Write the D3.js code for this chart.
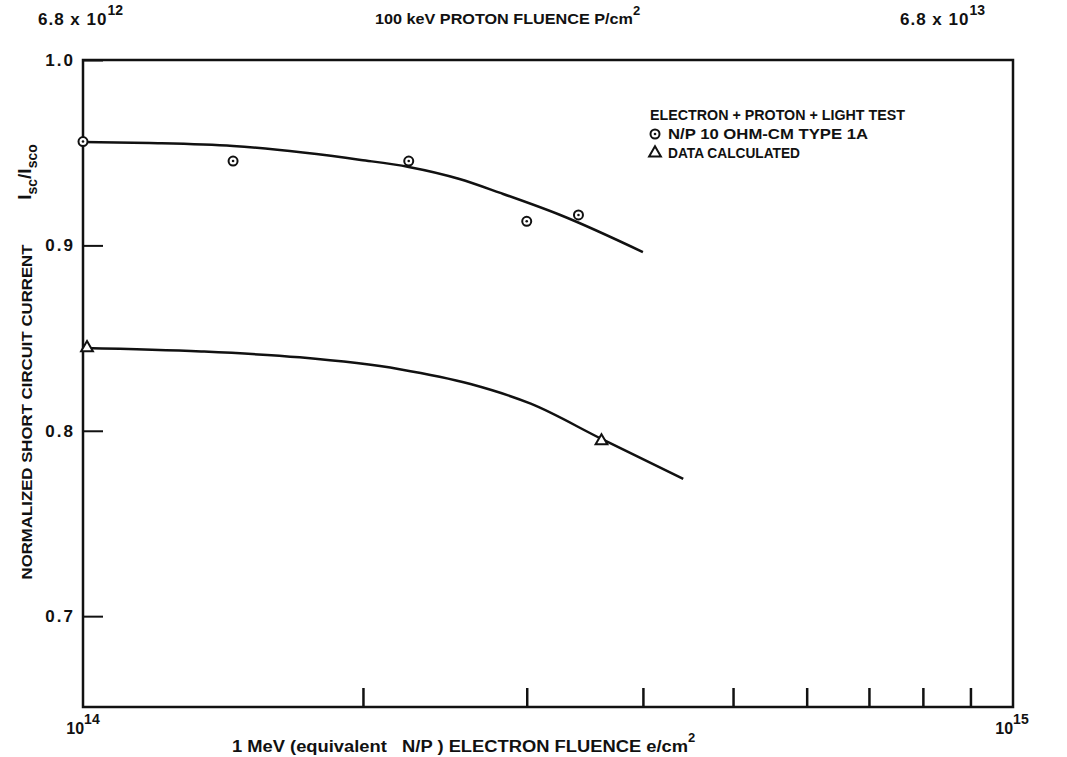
<!DOCTYPE html>
<html>
<head>
<meta charset="utf-8">
<script src="https://cdn.jsdelivr.net/npm/d3@7"></script>
<style>
  body { margin: 0; background: #fff; }
  text { font-family: "Liberation Sans", Arial, sans-serif; font-weight: bold; fill: #111; }
</style>
</head>
<body>
<div id="chart"></div>
<script>
// measured cells (circles) and calculated points (triangles)
const measuredX = [1.0e14, 1.45e14, 2.24e14, 3.0e14, 3.41e14];
const measuredY = [0.956, 0.9455, 0.9455, 0.913, 0.9164];
const calculatedX = [1.01e14, 3.61e14];
const calculatedY = [0.8447, 0.7945];

// hand drawn fit curves
const upperCurveX = [1.0e14, 1.18e14, 1.45e14, 1.99e14, 2.24e14, 2.54e14, 2.81e14, 3.26e14, 4.0e14];
const upperCurveY = [0.9558, 0.9552, 0.9536, 0.9461, 0.9423, 0.9358, 0.9283, 0.9164, 0.8964];
const lowerCurveX = [1.0e14, 1.34e14, 1.71e14, 2.19e14, 2.61e14, 3.03e14, 3.61e14, 4.42e14];
const lowerCurveY = [0.8447, 0.8428, 0.8396, 0.8332, 0.8252, 0.8146, 0.7956, 0.774];

const xTicks = [2e14, 3e14, 4e14, 5e14, 6e14, 7e14, 8e14, 9e14];
const xEndLabels = ["14", "15"];
const yTicks = [0.7, 0.8, 0.9, 1.0];
const protonExp = ["12", "13"];
const legendLabels = ["ELECTRON + PROTON + LIGHT TEST", "N/P 10 OHM-CM TYPE 1A", "DATA CALCULATED"];

const W = 1067, H = 757;
const plot = { left: 83, right: 1013, top: 60, bottom: 707 };

const svg = d3.select("#chart").append("svg")
    .attr("width", W).attr("height", H);

const x = d3.scaleLog().domain([1e14, 1e15]).range([plot.left, plot.right]);
const y = d3.scaleLinear().domain([0.651, 1.0]).range([plot.bottom, plot.top]);

// frame
svg.append("rect")
    .attr("x", plot.left).attr("y", plot.top)
    .attr("width", plot.right - plot.left).attr("height", plot.bottom - plot.top)
    .attr("fill", "none").attr("stroke", "#111").attr("stroke-width", 2.5);

// bottom ticks point inward
const xAxis = svg.append("g")
    .attr("transform", `translate(0,${plot.bottom})`)
    .call(d3.axisBottom(x).tickValues(xTicks).tickSizeInner(-19).tickSizeOuter(0).tickFormat(""));
xAxis.select(".domain").remove();
xAxis.selectAll("line").attr("stroke", "#111").attr("stroke-width", 2.5);

const yAxis = svg.append("g")
    .attr("transform", `translate(${plot.left},0)`)
    .call(d3.axisLeft(y).tickValues(yTicks).tickSizeInner(-20).tickSizeOuter(0).tickPadding(8)
        .tickFormat(d3.format(".1f")));
yAxis.select(".domain").remove();
yAxis.selectAll("line").attr("stroke", "#111").attr("stroke-width", 2);
yAxis.selectAll("text")
    .style("font-family", "'Liberation Sans', Arial, sans-serif")
    .style("font-weight", "bold").style("font-size", "17px").attr("fill", "#111")
    .attr("letter-spacing", 2);

// 10^14 / 10^15 under the axis
[1e14, 1e15].forEach((v, i) => {
    const t = svg.append("text")
        .attr("x", x(v) + (i ? -1 : 0)).attr("y", 734)
        .attr("text-anchor", "middle").style("font-size", "16px");
    t.append("tspan").text("10");
    t.append("tspan").attr("dy", -10).style("font-size", "14px").text(xEndLabels[i]);
});

// x title
const xt = svg.append("text")
    .attr("x", 232).attr("y", 752).style("font-size", "16px");
xt.append("tspan").attr("textLength", 456).attr("lengthAdjust", "spacingAndGlyphs")
    .text("1 MeV (equivalent \u00a0 N/P ) ELECTRON FLUENCE e/cm");
xt.append("tspan").attr("dy", -10).style("font-size", "13px").text("2");

// top proton fluence labels
[[38, protonExp[0]], [900, protonExp[1]]].forEach(([lx, e]) => {
    const t = svg.append("text")
        .attr("x", lx).attr("y", 25).style("font-size", "17px");
    t.append("tspan").attr("letter-spacing", 1).text("6.8 x 10");
    t.append("tspan").attr("dy", -10).style("font-size", "14px").text(e);
});
const tt = svg.append("text")
    .attr("x", 375).attr("y", 24).style("font-size", "15px");
tt.append("tspan").attr("textLength", 258).attr("lengthAdjust", "spacingAndGlyphs")
    .text("100 keV PROTON FLUENCE P/cm");
tt.append("tspan").attr("dy", -9).style("font-size", "13px").text("2");

// y title
svg.append("text")
    .attr("transform", "translate(32,412) rotate(-90)")
    .attr("text-anchor", "middle").style("font-size", "15px")
    .attr("textLength", 335).attr("lengthAdjust", "spacingAndGlyphs")
    .text("NORMALIZED SHORT CIRCUIT CURRENT");
const yt = svg.append("text")
    .attr("transform", "translate(31,172) rotate(-90)")
    .attr("text-anchor", "middle").style("font-size", "19px");
yt.append("tspan").text("I");
yt.append("tspan").attr("dy", 6).style("font-size", "14px").text("sc");
yt.append("tspan").attr("dy", -6).text("/I");
yt.append("tspan").attr("dy", 6).style("font-size", "14px").text("sco");

// curves
const line = d3.line().x(d => x(d[0])).y(d => y(d[1])).curve(d3.curveMonotoneX);
[[upperCurveX, upperCurveY], [lowerCurveX, lowerCurveY]].forEach(([xs, ys]) => {
    svg.append("path")
        .datum(xs.map((v, i) => [v, ys[i]]))
        .attr("d", line)
        .attr("fill", "none").attr("stroke", "#111").attr("stroke-width", 2.5);
});

// markers
function circleMark(g, cx, cy) {
    g.append("circle").attr("cx", cx).attr("cy", cy).attr("r", 4.5)
        .attr("fill", "#fff").attr("stroke", "#111").attr("stroke-width", 2);
    g.append("circle").attr("cx", cx).attr("cy", cy).attr("r", 1.3).attr("fill", "#111");
}
const tri = d3.symbol().type(d3.symbolTriangle).size(60);
function triMark(g, cx, cy) {
    g.append("path").attr("d", tri).attr("transform", `translate(${cx},${cy})`)
        .attr("fill", "#fff").attr("stroke", "#111").attr("stroke-width", 2);
}
const marks = svg.append("g");
measuredX.forEach((v, i) => circleMark(marks, x(v), y(measuredY[i])));
calculatedX.forEach((v, i) => triMark(marks, x(v), y(calculatedY[i])));

// legend
const lg = svg.append("g").attr("transform", "translate(650,0)");
lg.append("text").attr("x", 0).attr("y", 120).style("font-size", "14px")
    .attr("textLength", 255).attr("lengthAdjust", "spacingAndGlyphs").text(legendLabels[0]);
circleMark(lg, 5, 134);
lg.append("text").attr("x", 18).attr("y", 139).style("font-size", "14px")
    .attr("textLength", 200).attr("lengthAdjust", "spacingAndGlyphs").text(legendLabels[1]);
triMark(lg, 5, 153);
lg.append("text").attr("x", 18).attr("y", 158).style("font-size", "14px")
    .attr("textLength", 132).attr("lengthAdjust", "spacingAndGlyphs").text(legendLabels[2]);
</script>
</body>
</html>
